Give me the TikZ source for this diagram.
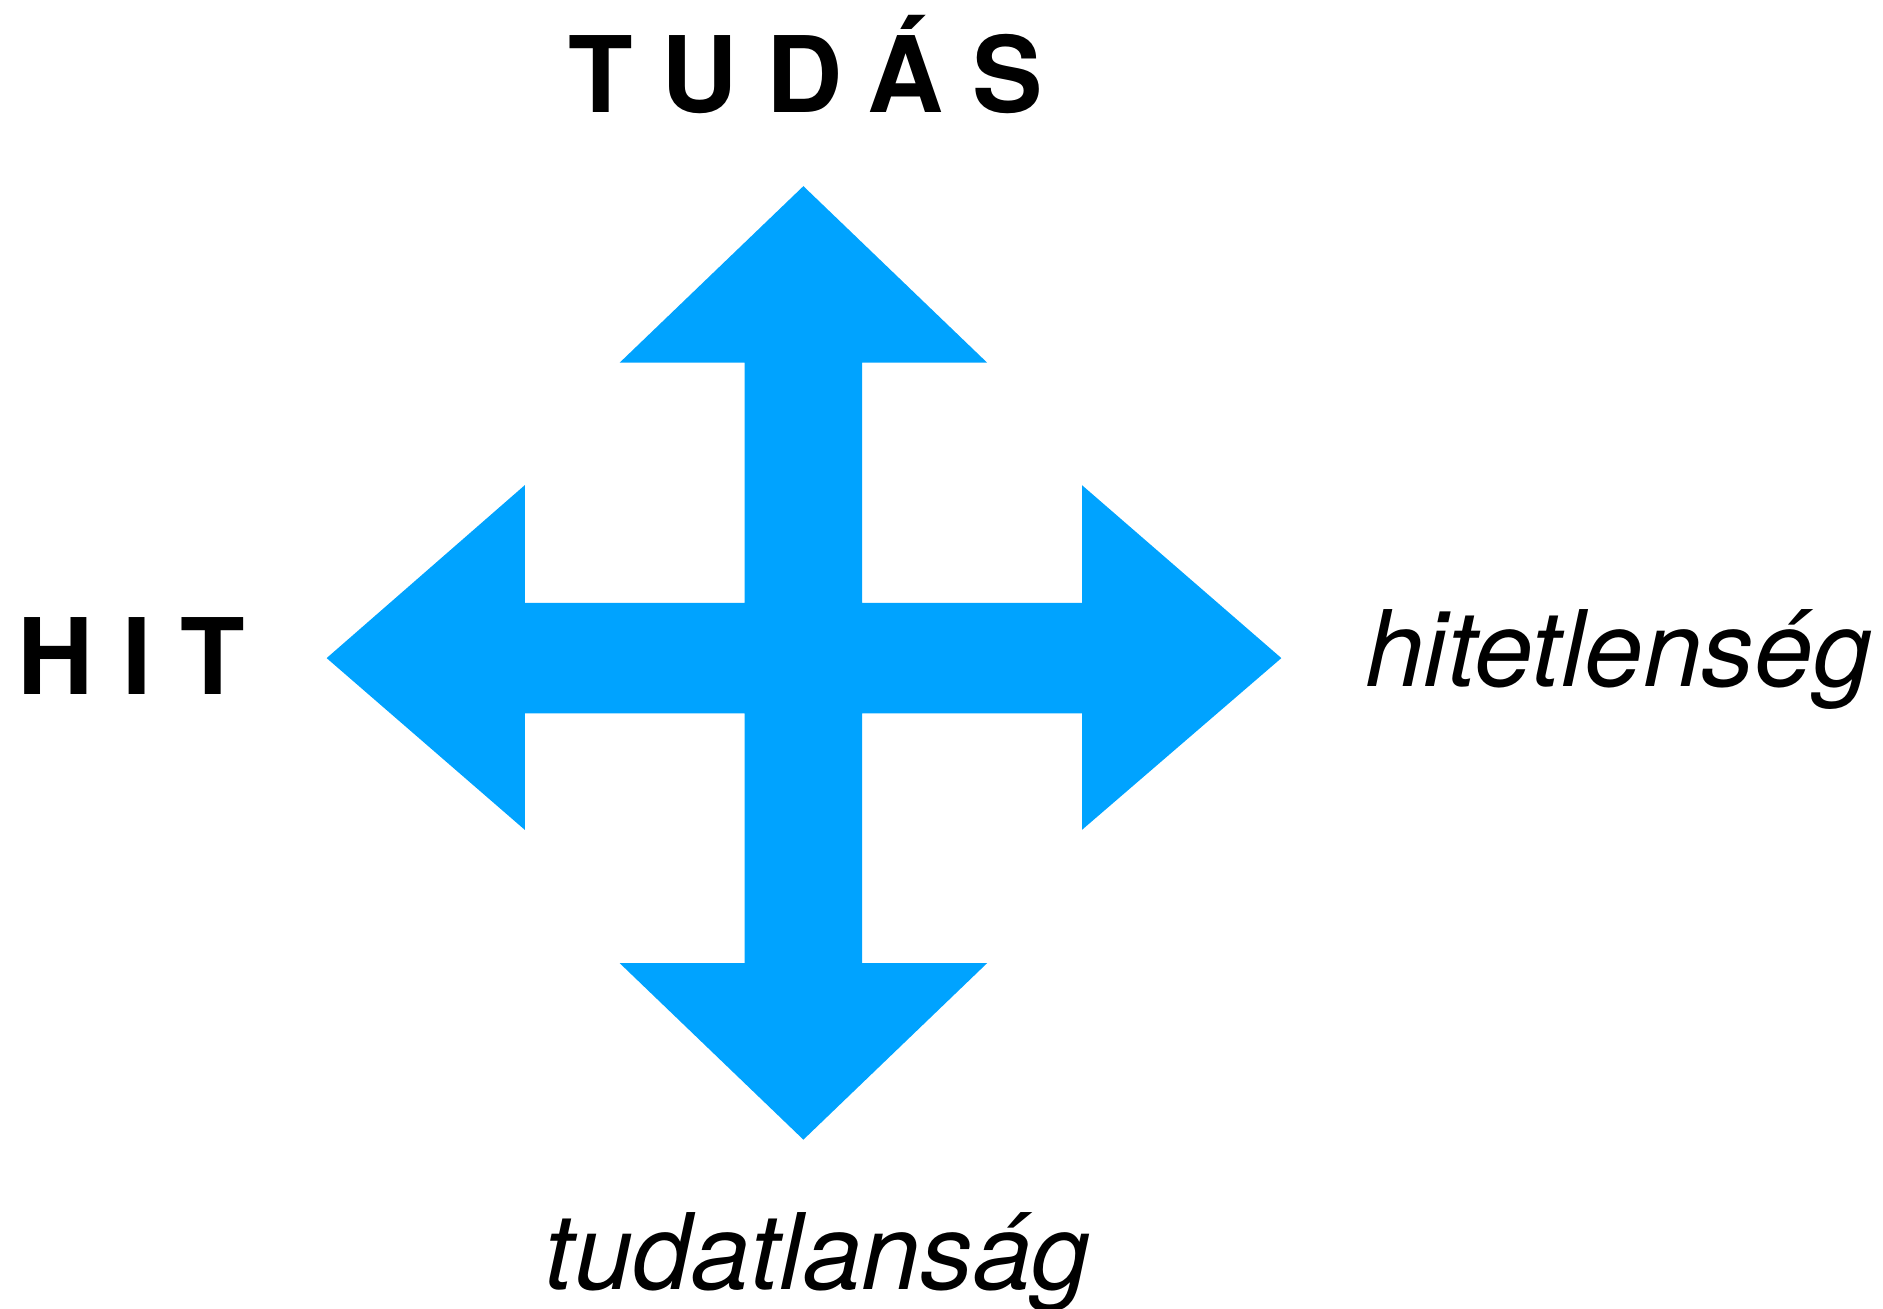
\documentclass[tikz,border=0pt]{standalone}
\usepackage{fontspec}
\setmainfont{TeX Gyre Heros}
\newfontfamily\spacedfont{TeX Gyre Heros}[LetterSpace=27]
\usepackage{xcolor}
\definecolor{arrowblue}{HTML}{00A3FF}

\begin{document}
\begin{tikzpicture}[x=0.01cm, y=-0.01cm]
% Define styles
\tikzstyle{pole} = [inner sep=0pt, font=\fontsize{25}{30}\selectfont\spacedfont\bfseries]
\tikzstyle{negpole} = [inner sep=0pt, font=\fontsize{25}{30}\selectfont\itshape]
\useasboundingbox (0,0) rectangle (1568,1090);
% Four-way arrow
\fill[arrowblue] (669,155) -- (822,302) -- (718,302) -- (718,502) -- (901,502) -- (901,404)
  -- (1067,548) -- (901,691) -- (901,594) -- (718,594) -- (718,802) -- (822,802)
  -- (669,949) -- (516,802) -- (620,802) -- (620,594) -- (437,594) -- (437,691)
  -- (272,548) -- (437,404) -- (437,502) -- (620,502) -- (620,302) -- (516,302) -- cycle;
% Place nodes
\node[pole, anchor=base west] (tudas) at (473,94) {TUDÁS};
\node[pole, anchor=base west] (hit) at (14,578) {HIT};
\node[negpole, anchor=base west] (hitetlen) at (1136,572) {hitetlenség};
\node[negpole, anchor=base west] (tudatlan) at (453,1074) {tudatlanság};
\end{tikzpicture}
\end{document}
